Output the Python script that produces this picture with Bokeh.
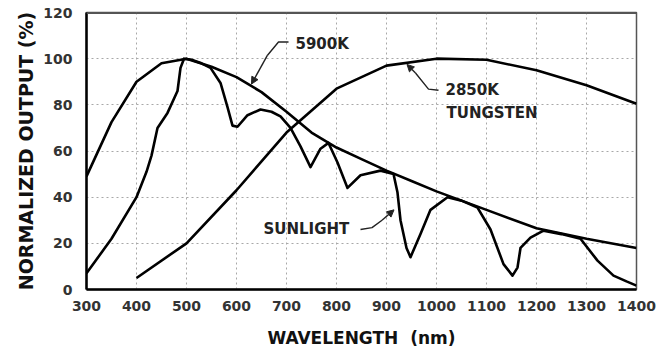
from bokeh.plotting import figure
from bokeh.models import Arrow, NormalHead, Span, FixedTicker
from bokeh.embed import file_html
from bokeh.resources import INLINE
from bokeh.core.properties import value

# ---- data ----
bb_nm = [300, 350, 400, 450, 500, 550, 600, 650, 700, 750, 800, 850, 900, 950, 1000, 1100, 1200, 1300, 1400]
bb_val = [49, 72.5, 90, 98, 100, 96.5, 92, 85.5, 77, 68, 61.5, 56.5, 51.5, 47, 42.5, 34.5, 26.5, 22, 18]

w_nm = [400, 500, 600, 700, 800, 900, 1000, 1100, 1200, 1300, 1400]
w_val = [5, 20, 43, 68, 87, 97, 100, 99.5, 95, 88.5, 80.5]

sun_nm = [300, 350, 400, 420, 430, 442, 462, 482, 488, 495, 510, 530, 548, 568, 582, 592, 602, 622,
          648, 670, 688, 708, 728, 748, 768, 784, 802, 822, 848, 888, 914, 922, 928, 940, 948, 968,
          988, 1022, 1050, 1082, 1108, 1134, 1152, 1162, 1168, 1188, 1214, 1250, 1288, 1322, 1354,
          1380, 1400]
sun_val = [7, 22, 40, 51, 58, 70, 76.5, 86, 96, 100, 99.5, 98, 96, 89.5, 79, 71, 70.5, 75.5,
           78, 77, 75, 70, 62, 53, 61, 63.5, 55, 44, 49.5, 51.5, 50, 42, 30, 18, 14, 24,
           34.5, 40, 38.5, 35.5, 26, 11, 6, 9.5, 18, 22.5, 25.5, 24, 22, 12.5, 6,
           3.5, 1.7]

x_ticks = [300, 400, 500, 600, 700, 800, 900, 1000, 1100, 1200, 1300, 1400]
y_ticks = [0, 20, 40, 60, 80, 100, 120]

# labels and leader lines (data coordinates)
bb_label = ("5900K", 718, 106.5)
bb_leader_x = [704, 684, 662]
bb_leader_y = [107.2, 107.2, 101.5]
bb_tip = (630, 89)

w_label1 = ("2850K", 1018, 86.5)
w_label2 = ("TUNGSTEN", 1020, 76.6)
w_leader_x = [1004, 984, 958]
w_leader_y = [86.3, 86.8, 93.8]
w_tip = (941, 97.5)

sun_label = ("SUNLIGHT", 654, 26)
sun_leader_x = [848, 871, 891]
sun_leader_y = [26, 26.8, 30]
sun_tip = (915, 34.5)

FONT = "DejaVu Sans"

p = figure(width=671, height=350, x_range=(300, 1400), y_range=(0, 120),
           output_backend="svg", toolbar_location=None,
           min_border_left=86, min_border_right=35, min_border_top=12, min_border_bottom=61)

p.background_fill_color = "white"
p.border_fill_color = "white"
p.outline_line_color = "#555555"
p.outline_line_width = 1.5

# grid
for g in (p.xgrid, p.ygrid):
    g.grid_line_color = "#a8a8a8"
    g.grid_line_dash = "2 3"
    g.grid_line_width = 1
p.xaxis.ticker = FixedTicker(ticks=x_ticks)
p.yaxis.ticker = FixedTicker(ticks=y_ticks)

for ax in (p.xaxis, p.yaxis):
    ax.axis_line_width = 2.5
    ax.axis_line_color = "black"
    ax.major_tick_line_color = None
    ax.minor_tick_line_color = None
    ax.major_label_text_font = FONT
    ax.major_label_text_font_size = "14px"
    ax.major_label_text_font_style = "bold"
    ax.major_label_text_color = "#333333"
    ax.axis_label_text_font = FONT
    ax.axis_label_text_font_style = "bold"
    ax.axis_label_text_color = "#111111"

p.xaxis.axis_label = "WAVELENGTH\u00a0\u00a0(nm)"
p.yaxis.axis_label = "NORMALIZED OUTPUT (%)"
p.xaxis.axis_label_text_font_size = "17px"
p.yaxis.axis_label_text_font_size = "19px"
p.xaxis.major_label_standoff = 5
p.yaxis.major_label_standoff = 8
p.xaxis.axis_label_standoff = 14
p.yaxis.axis_label_standoff = 3

# top border heavier
p.add_layout(Span(location=120, dimension="width", line_color="#555555", line_width=3))

# curves
p.line(bb_nm, bb_val, line_color="black", line_width=2.6, line_join="round")
p.line(w_nm, w_val, line_color="black", line_width=2.6, line_join="round")
p.line(sun_nm, sun_val, line_color="black", line_width=2.6, line_join="round")

# leaders
for lx, ly, tip in ((bb_leader_x, bb_leader_y, bb_tip),
                    (w_leader_x, w_leader_y, w_tip),
                    (sun_leader_x, sun_leader_y, sun_tip)):
    p.line(lx, ly, line_color="#222222", line_width=1.4)
    p.add_layout(Arrow(end=NormalHead(size=7, fill_color="#222222", line_color="#222222"),
                       x_start=lx[-1], y_start=ly[-1], x_end=tip[0], y_end=tip[1],
                       line_color="#222222", line_width=1.4))

for txt, tx, ty in (bb_label, w_label1, w_label2, sun_label):
    p.text(x=[tx], y=[ty], text=[txt], text_font=value(FONT), text_font_size="15px",
           text_font_style="bold", text_color="#222222", text_baseline="middle", text_align="left")

open("out.html", "w").write(file_html(p, INLINE))
